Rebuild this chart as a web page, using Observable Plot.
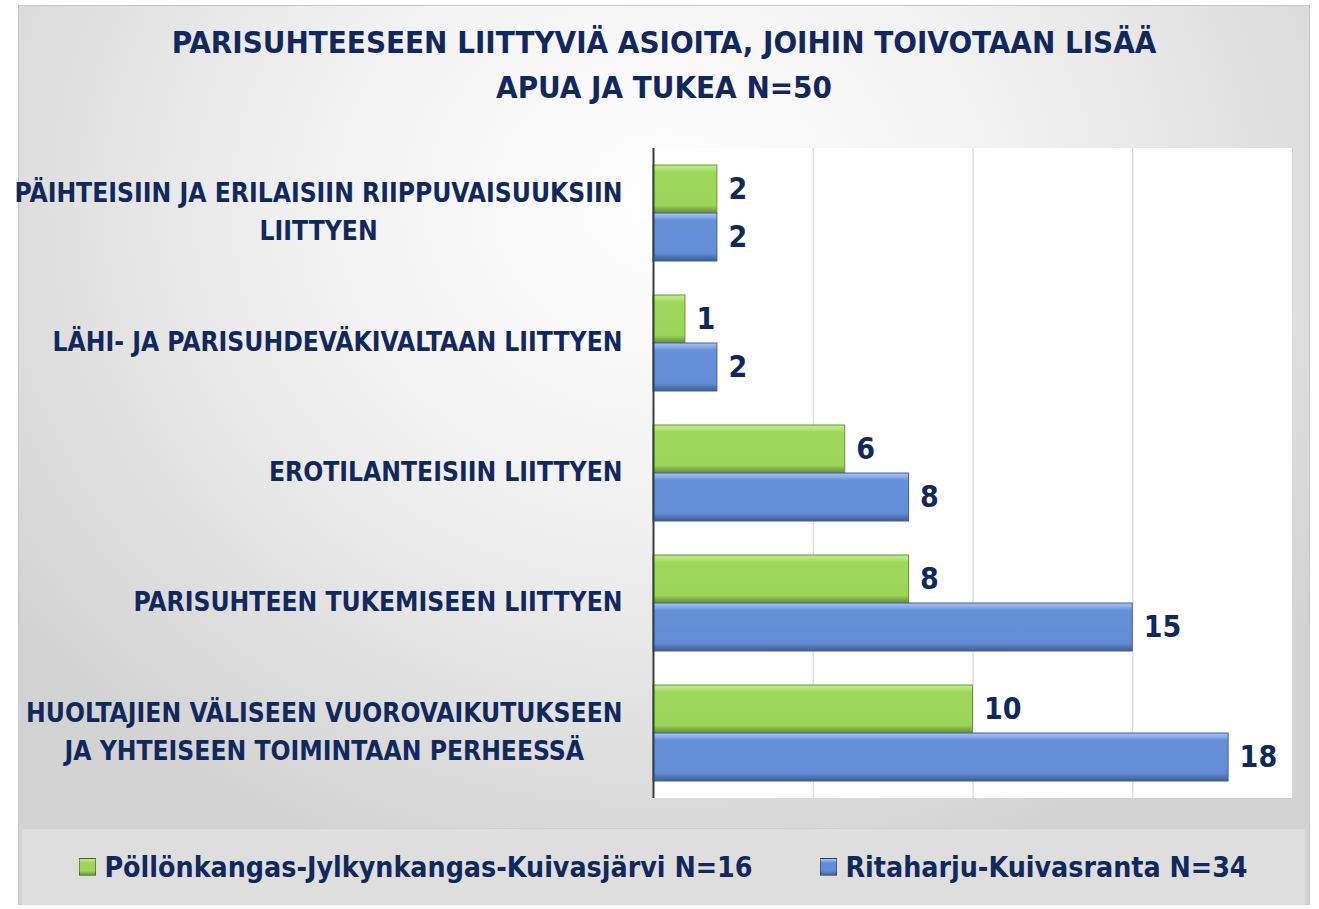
<!DOCTYPE html>
<html>
<head>
<meta charset="utf-8">
<script src="https://cdn.jsdelivr.net/npm/d3@7"></script>
<script src="https://cdn.jsdelivr.net/npm/@observablehq/plot@0.6"></script>
<style>
  html, body { margin: 0; padding: 0; background: #ffffff; }
  body { width: 1319px; height: 909px; position: relative; overflow: hidden;
         font-family: "DejaVu Sans Condensed", "Liberation Sans Narrow", sans-serif; }
  #panel { position: absolute; left: 18px; top: 5px; width: 1290px; height: 898px;
           border: 1px solid #c6c6c6;
           background: radial-gradient(ellipse 62% 78% at 50% 22%, #ffffff 0%, #f1f1f1 45%, #d3d3d3 100%); }
  #plotbg { position: absolute; left: 653px; top: 148px; width: 639px; height: 650px; background: #ffffff; }
  #title { position: absolute; left: 18px; width: 1292px; top: 20px; text-align: center;
           font-size: 31px; line-height: 45px; font-weight: bold; color: #12285c; }
  #chart { position: absolute; left: 0; top: 148px; }
  #legend { position: absolute; left: 22px; top: 828px; width: 1283px; height: 76px;
            background: #dedede; border-top: 1px solid #d0d0d0;
            display: flex; align-items: center; justify-content: center; gap: 68px;
            font-size: 28.3px; font-weight: bold; color: #12285c; }
  .item { display: flex; align-items: center; gap: 8px; }
  .sw { width: 15px; height: 16px; border: 1px solid rgba(0,0,0,0.35); }
</style>
</head>
<body>
<svg width="0" height="0" style="position:absolute">
  <defs>
    <linearGradient id="gradGreen" x1="0" y1="0" x2="0" y2="1">
      <stop offset="0" stop-color="#c2ec8c"/>
      <stop offset="0.09" stop-color="#b3e377"/>
      <stop offset="0.15" stop-color="#9dd75c"/>
      <stop offset="0.84" stop-color="#9bd65a"/>
      <stop offset="0.92" stop-color="#7fae47"/>
      <stop offset="1" stop-color="#66903a"/>
    </linearGradient>
    <linearGradient id="gradBlue" x1="0" y1="0" x2="0" y2="1">
      <stop offset="0" stop-color="#a9c4f0"/>
      <stop offset="0.09" stop-color="#86a9e6"/>
      <stop offset="0.15" stop-color="#6690d8"/>
      <stop offset="0.84" stop-color="#628dd6"/>
      <stop offset="0.92" stop-color="#5073b0"/>
      <stop offset="1" stop-color="#3f5d93"/>
    </linearGradient>
  </defs>
</svg>
<div id="panel"></div>
<div id="plotbg"></div>
<div id="title">PARISUHTEESEEN LIITTYVIÄ ASIOITA, JOIHIN TOIVOTAAN LISÄÄ<br>APUA JA TUKEA N=50</div>
<div id="chart"></div>
<div id="legend"></div>
<script>
// ---- data ----
const categories = [
  "PÄIHTEISIIN JA ERILAISIIN RIIPPUVAISUUKSIIN\nLIITTYEN",
  "LÄHI- JA PARISUHDEVÄKIVALTAAN LIITTYEN",
  "EROTILANTEISIIN LIITTYEN",
  "PARISUHTEEN TUKEMISEEN LIITTYEN",
  "HUOLTAJIEN VÄLISEEN VUOROVAIKUTUKSEEN\nJA YHTEISEEN TOIMINTAAN PERHEESSÄ"
];
const series = ["Pöllönkangas-Jylkynkangas-Kuivasjärvi N=16", "Ritaharju-Kuivasranta N=34"];
const greenValues = [2, 1, 6, 8, 10];
const blueValues = [2, 2, 8, 15, 18];
const gridTicks = [5, 10, 15, 20];
const seriesFills = ["url(#gradGreen)", "url(#gradBlue)"];
const seriesStrokes = ["#6a9438", "#42609a"];

const rows = [];
categories.forEach((c, i) => {
  rows.push({category: c, series: series[0], value: greenValues[i]});
  rows.push({category: c, series: series[1], value: blueValues[i]});
});

const navy = "#12285c";

const chart = Plot.plot({
  width: 1292,
  height: 650,
  marginLeft: 653,
  marginRight: 0,
  marginTop: 0,
  marginBottom: 0,
  style: {background: "transparent", overflow: "visible",
          fontFamily: "'DejaVu Sans Condensed', 'Liberation Sans Narrow', sans-serif"},
  x: {domain: [0, 20], axis: null},
  y: {domain: series, paddingInner: 0, paddingOuter: 0.354, axis: null},
  fy: {domain: categories, padding: 0, label: null},
  marks: [
    Plot.ruleX(gridTicks, {stroke: "#d9d9d9", strokeWidth: 1.2}),
    ...series.map((s, k) => Plot.barX(rows.filter(d => d.series === s), {
      x: "value", y: "series", fy: "category",
      fill: seriesFills[k], stroke: seriesStrokes[k], strokeWidth: 1
    })),
    Plot.ruleX([0], {stroke: "#3c3c3c", strokeWidth: 2}),
    Plot.text(rows, {
      x: "value", y: "series", fy: "category", text: d => String(d.value),
      textAnchor: "start", dx: 11, fill: navy, fontSize: 30, fontWeight: "bold"
    }),
    Plot.axisFy({
      anchor: "left", tickSize: 0, tickPadding: 31, label: null, dy: -5,
      fontSize: 26.2, fontWeight: "bold", fill: navy, lineHeight: 1.45
    })
  ]
});
document.getElementById("chart").appendChild(chart);

// center multi-line category labels within their (right-aligned) block
chart.querySelectorAll("text").forEach(t => {
  const spans = t.querySelectorAll("tspan");
  if (spans.length > 1) {
    const W = Math.max(...Array.from(spans, s => s.getComputedTextLength()));
    spans.forEach(s => { s.setAttribute("x", String(-W / 2)); s.setAttribute("text-anchor", "middle"); });
  }
});

// legend
const legend = document.getElementById("legend");
series.forEach((s, k) => {
  const item = document.createElement("div");
  item.className = "item";
  const sw = document.createElement("span");
  sw.className = "sw";
  sw.style.background = k === 0
    ? "linear-gradient(to bottom, #c2ec8c 0%, #9bd65a 25%, #9bd65a 75%, #66903a 100%)"
    : "linear-gradient(to bottom, #a9c4f0 0%, #628dd6 25%, #628dd6 75%, #3f5d93 100%)";
  const label = document.createElement("span");
  label.textContent = s;
  item.appendChild(sw);
  item.appendChild(label);
  legend.appendChild(item);
});
</script>
</body>
</html>
